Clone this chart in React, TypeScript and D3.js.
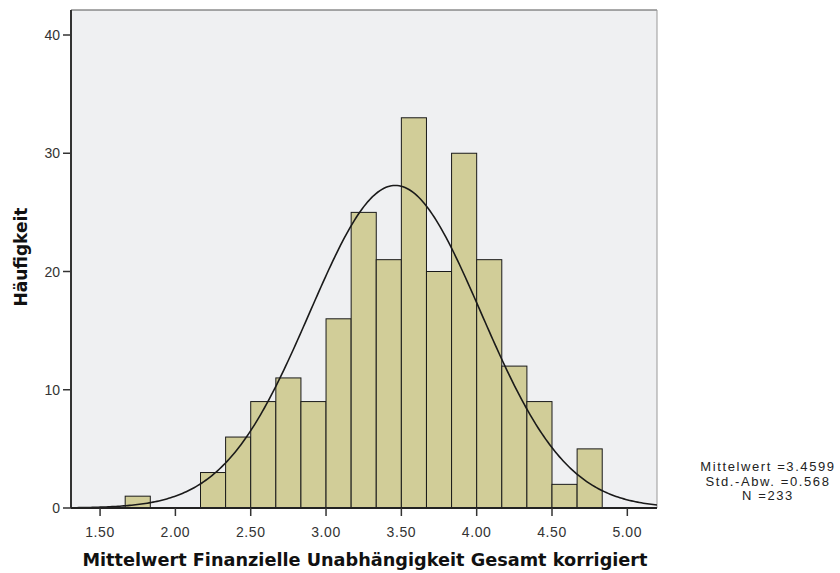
import React from "react";
import * as d3 from "d3";

const binStarts = [1.6667, 2.1667, 2.3333, 2.5, 2.6667, 2.8333, 3.0, 3.1667, 3.3333, 3.5, 3.6667, 3.8333, 4.0, 4.1667, 4.3333, 4.5, 4.6667];
const counts = [1, 3, 6, 9, 11, 9, 16, 25, 21, 33, 20, 30, 21, 12, 9, 2, 5];
const binWidth = 1 / 6;
const xTicks = [1.5, 2.0, 2.5, 3.0, 3.5, 4.0, 4.5, 5.0];
const yTicks = [0, 10, 20, 30, 40];
const meanVal = 3.4599;
const sdVal = 0.568;
const nVal = 233;
const legendLines = ["Mittelwert =3.4599", "Std.-Abw. =0.568", "N =233"];

const W = 840, H = 573;
const left = 71, right = 657, top = 10, bottom = 508;

export default function App() {
  const x = d3.scaleLinear().domain([1.307, 5.197]).range([left, right]);
  const y = d3.scaleLinear().domain([0, 40]).range([bottom, bottom - 473]);
  const pdf = (v: number) =>
    (nVal * binWidth) / (sdVal * Math.sqrt(2 * Math.PI)) *
    Math.exp(-0.5 * ((v - meanVal) / sdVal) ** 2);
  const pts = d3.range(0, 301).map((i) => 1.307 + (i / 300) * (5.197 - 1.307));
  const line = d3.line<number>().x((v) => x(v)).y((v) => y(pdf(v)));
  const font = "'Liberation Sans', Arial, sans-serif";
  const wide = "'DejaVu Sans', Verdana, sans-serif";
  return (
    <svg width={W} height={H} style={{ position: "absolute", left: 0, top: 0, background: "#fff" }}>
      <defs>
        <clipPath id="pa">
          <rect x={left} y={top} width={right - left} height={bottom - top} />
        </clipPath>
      </defs>
      <rect x={left} y={top} width={right - left} height={bottom - top} fill="#eff0f2" />
      <line x1={left} x2={right} y1={top} y2={top} stroke="#555" strokeWidth={1.2} />
      <line x1={right} x2={right} y1={top} y2={bottom} stroke="#999" strokeWidth={1} />
      {binStarts.map((b, i) => (
        <rect
          key={i}
          x={x(b)}
          y={y(counts[i])}
          width={x(b + binWidth) - x(b)}
          height={y(0) - y(counts[i])}
          fill="#d1cd98"
          stroke="#1a1a1a"
          strokeWidth={1}
        />
      ))}
      <path d={line(pts) || ""} fill="none" stroke="#1a1a1a" strokeWidth={1.6} clipPath="url(#pa)" />
      <line x1={left} x2={left} y1={top} y2={bottom} stroke="#333" strokeWidth={2} />
      <line x1={left} x2={right} y1={bottom} y2={bottom} stroke="#222" strokeWidth={2} />
      {yTicks.map((t) => (
        <g key={t}>
          <line x1={left - 8} x2={left} y1={y(t)} y2={y(t)} stroke="#333" strokeWidth={1.5} />
          <text x={left - 11} y={y(t)} dy="0.36em" textAnchor="end" fontFamily={font} fontSize={14} fill="#333">
            {t}
          </text>
        </g>
      ))}
      {xTicks.map((t) => (
        <g key={t}>
          <line x1={x(t)} x2={x(t)} y1={bottom} y2={bottom + 8} stroke="#333" strokeWidth={1.5} />
          <text x={x(t)} y={bottom + 29} textAnchor="middle" fontFamily={font} fontSize={14} letterSpacing={0.6} fill="#333">
            {t.toFixed(2)}
          </text>
        </g>
      ))}
      <text x={365} y={566} textAnchor="middle" fontFamily={wide} fontSize={17.7} fontWeight="bold" fill="#111">
        Mittelwert Finanzielle Unabhängigkeit Gesamt korrigiert
      </text>
      <text
        transform={`translate(27,257) rotate(-90)`}
        textAnchor="middle"
        fontFamily={wide}
        fontSize={17}
        fontWeight="bold"
        fill="#111"
      >
        Häufigkeit
      </text>
      <g fontFamily={font} fontSize={13} fill="#222" textAnchor="middle" letterSpacing={1.6}>
        {legendLines.map((s, i) => (
          <text key={i} x={768} y={471 + i * 14.5}>
            {s}
          </text>
        ))}
      </g>
    </svg>
  );
}
